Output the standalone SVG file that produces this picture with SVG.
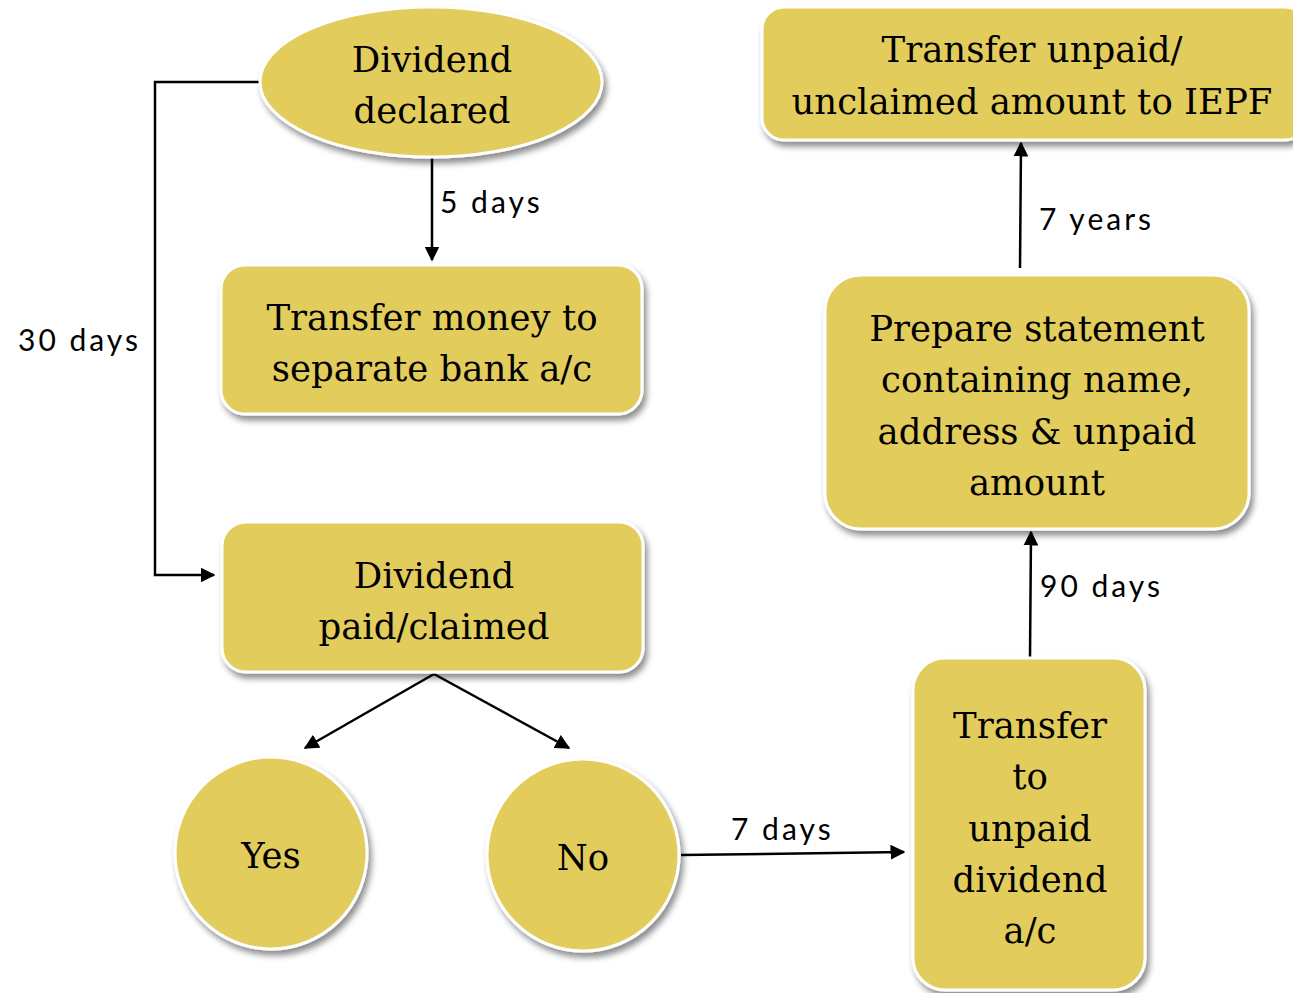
<svg xmlns="http://www.w3.org/2000/svg" width="1293" height="993" viewBox="0 0 1293 993">
  <defs>
    <filter id="shadow" x="-10%" y="-10%" width="125%" height="130%">
      <feDropShadow dx="3" dy="5" stdDeviation="3" flood-color="#000" flood-opacity="0.45"/>
    </filter>
    <marker id="arrow" viewBox="0 0 10 10" refX="9" refY="5" markerWidth="6" markerHeight="6" orient="auto" markerUnits="strokeWidth">
      <path d="M0,0 L10,5 L0,10 z" fill="#000"/>
    </marker>
  </defs>
  <style>
    .node { fill: #E2CC5C; stroke: #fff; stroke-width: 3; filter: url(#shadow); }
    .txt { font-family: "DejaVu Serif", "Liberation Serif", serif; font-size: 35.5px; fill: #000; text-anchor: middle; }
    .lbl { font-family: "Lato", "Open Sans", "DejaVu Sans", sans-serif; font-size: 30px; fill: #000; letter-spacing: 3px; }
    .edge { fill: none; stroke: #000; stroke-width: 2.5; }
  </style>
  <rect width="1293" height="993" fill="#fff"/>

  <g id="connectors">
    <path class="edge" d="M432,158 L432,260" marker-end="url(#arrow)"/>
    <path class="edge" d="M260,82 L155,82 L155,575 L214,575" marker-end="url(#arrow)"/>
    <path class="edge" d="M434,674 L305,748" marker-end="url(#arrow)"/>
    <path class="edge" d="M434,674 L569,748" marker-end="url(#arrow)"/>
    <path class="edge" d="M681,855 L904,852" marker-end="url(#arrow)"/>
    <path class="edge" d="M1030,657 L1031,532" marker-end="url(#arrow)"/>
    <path class="edge" d="M1020,268 L1021,143" marker-end="url(#arrow)"/>
  </g>

  <g id="labels">
    <text class="lbl" x="440" y="213">5 days</text>
    <text class="lbl" x="18" y="351">30 days</text>
    <text class="lbl" x="1039" y="230">7 years</text>
    <text class="lbl" x="1040" y="597">90 days</text>
    <text class="lbl" x="731" y="840">7 days</text>
  </g>

  <g id="dividend-declared">
    <ellipse class="node" cx="431" cy="82" rx="171" ry="75"/>
    <text class="txt" x="432" y="72">Dividend</text>
    <text class="txt" x="432" y="123">declared</text>
  </g>

  <g id="transfer-bank">
    <rect class="node" x="221" y="265" width="421" height="149" rx="24"/>
    <text class="txt" x="432" y="330">Transfer money to</text>
    <text class="txt" x="432" y="381">separate bank a/c</text>
  </g>

  <g id="dividend-paid">
    <rect class="node" x="222" y="522" width="421" height="150" rx="24"/>
    <text class="txt" x="434" y="588">Dividend</text>
    <text class="txt" x="434" y="639">paid/claimed</text>
  </g>

  <g id="yes">
    <circle class="node" cx="271" cy="853" r="96"/>
    <text class="txt" x="271" y="868">Yes</text>
  </g>

  <g id="no">
    <circle class="node" cx="583" cy="855" r="96"/>
    <text class="txt" x="583" y="870">No</text>
  </g>

  <g id="transfer-unpaid">
    <rect class="node" x="913" y="658" width="232" height="332" rx="32"/>
    <text class="txt" x="1030" y="738">Transfer</text>
    <text class="txt" x="1030" y="789">to</text>
    <text class="txt" x="1030" y="841">unpaid</text>
    <text class="txt" x="1030" y="892">dividend</text>
    <text class="txt" x="1030" y="943">a/c</text>
  </g>

  <g id="prepare-statement">
    <rect class="node" x="825" y="275" width="424" height="254" rx="36"/>
    <text class="txt" x="1037" y="341">Prepare statement</text>
    <text class="txt" x="1037" y="392">containing name,</text>
    <text class="txt" x="1037" y="444">address &amp; unpaid</text>
    <text class="txt" x="1037" y="495">amount</text>
  </g>

  <g id="transfer-iepf">
    <rect class="node" x="762" y="7" width="545" height="133" rx="22"/>
    <text class="txt" x="1032" y="62">Transfer unpaid/</text>
    <text class="txt" x="1032" y="114">unclaimed amount to IEPF</text>
  </g>
</svg>
